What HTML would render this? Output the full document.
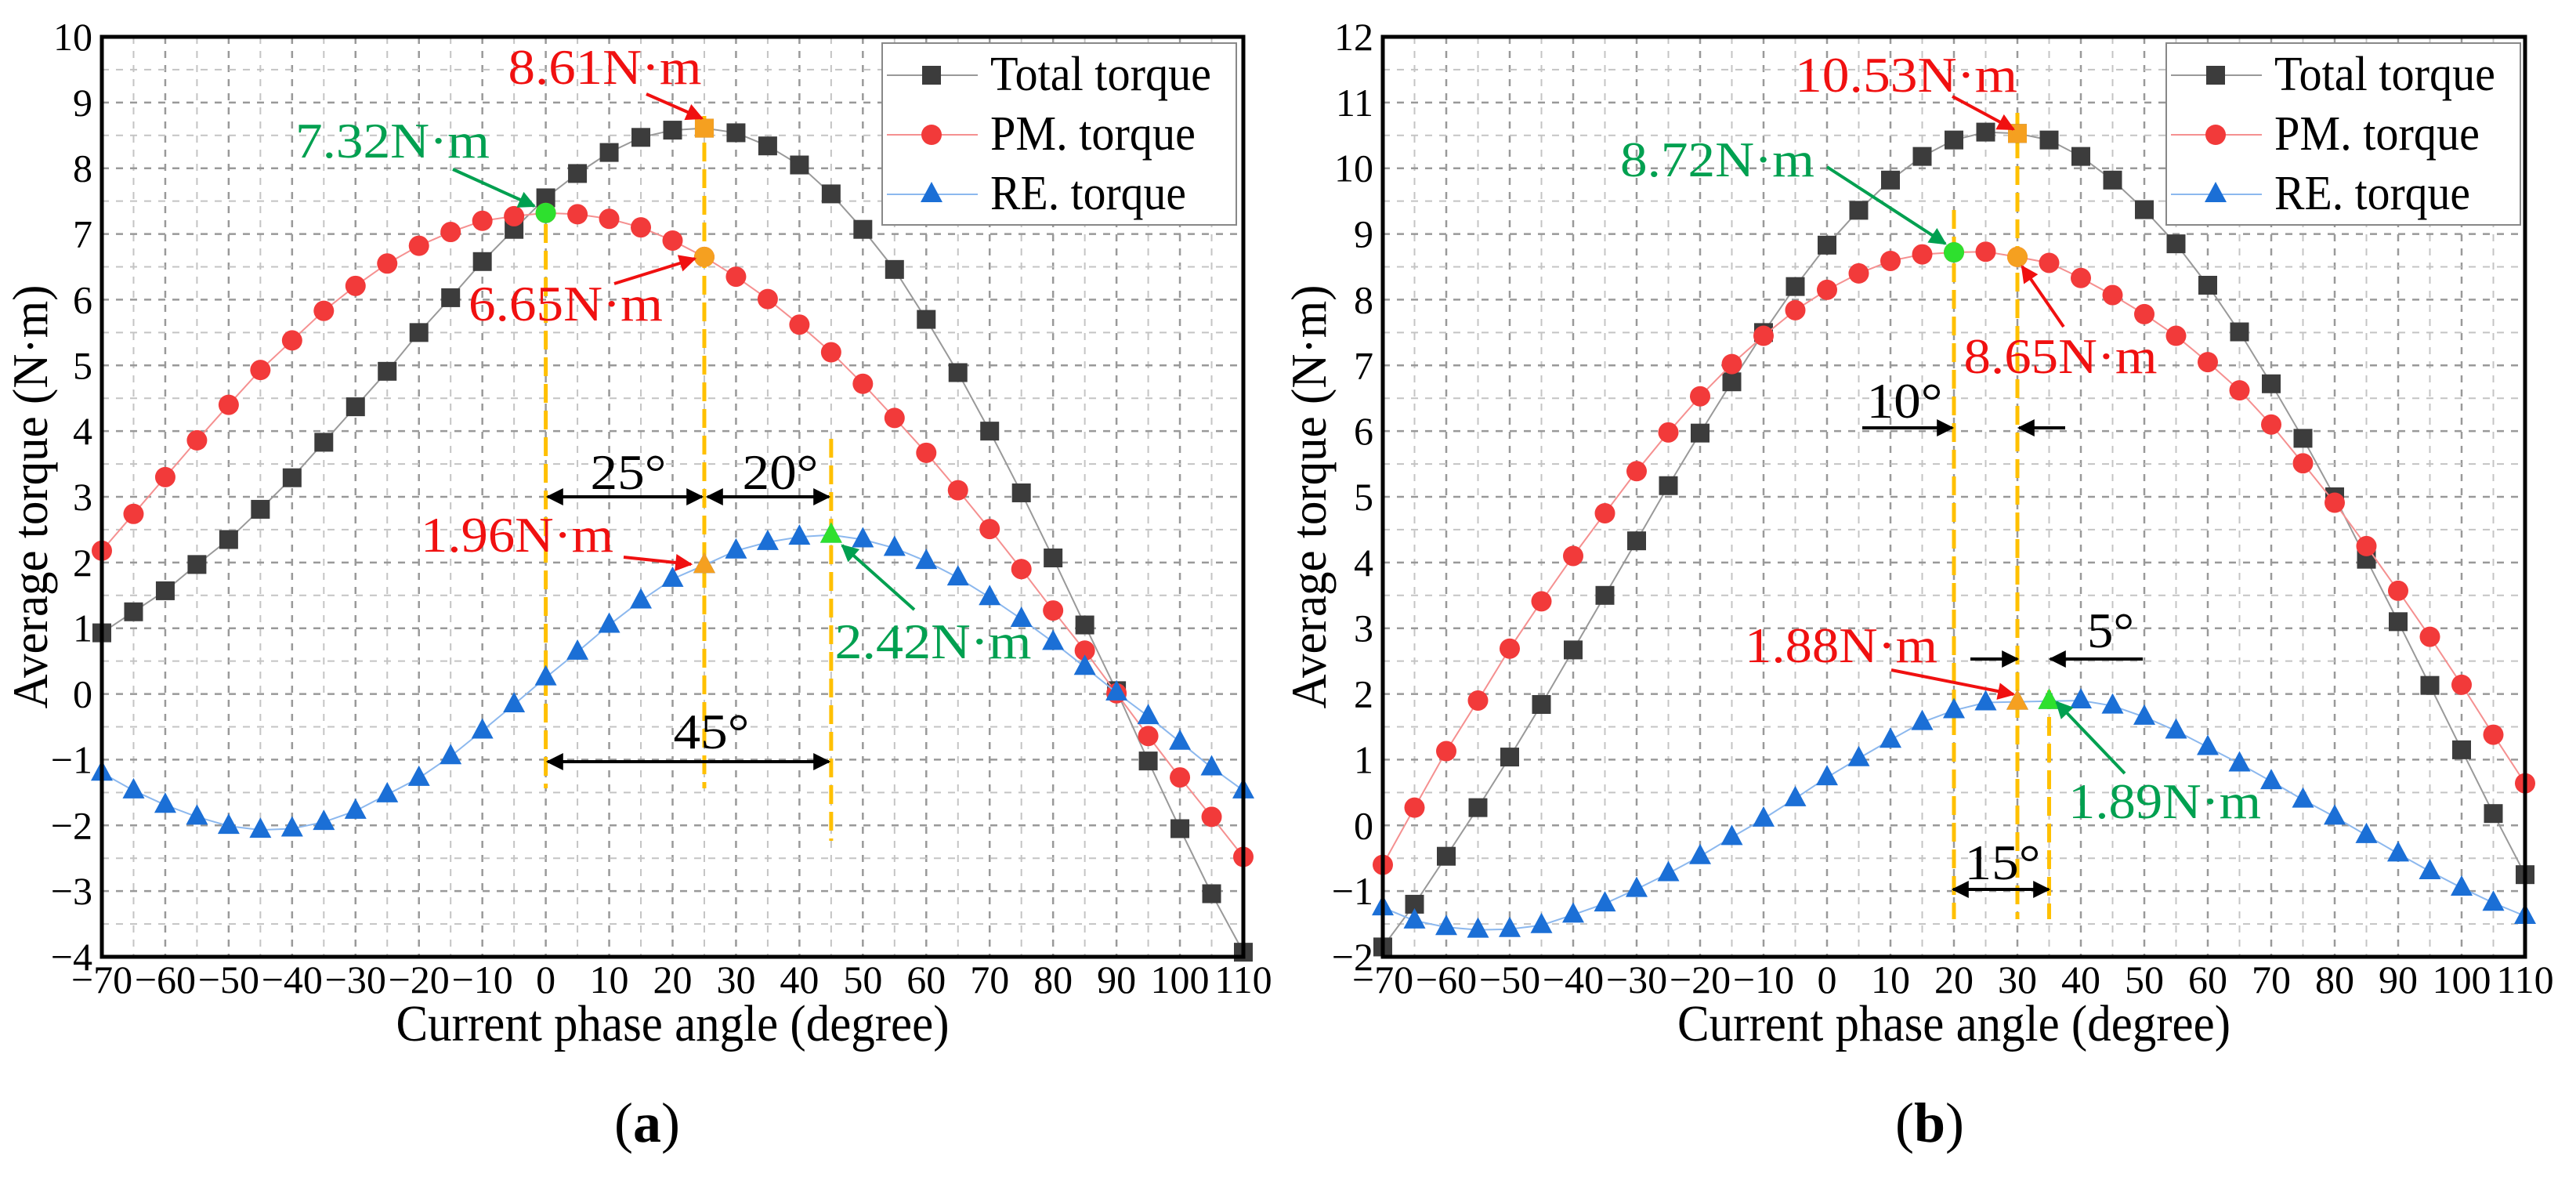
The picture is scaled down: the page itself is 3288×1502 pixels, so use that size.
<!DOCTYPE html>
<html><head><meta charset="utf-8"><style>
html,body{margin:0;padding:0;background:#fff}
svg{display:block;font-family:"Liberation Serif","Times New Roman",Times,"DejaVu Serif",serif}
text{font-family:"Liberation Serif","Times New Roman",Times,"DejaVu Serif",serif}
</style></head><body>
<svg id="svg" width="3288" height="1502" viewBox="0 0 3288 1502"></svg>
<script>
const angles = [-70,-65,-60,-55,-50,-45,-40,-35,-30,-25,-20,-15,-10,-5,0,5,10,15,20,25,30,35,40,45,50,55,60,65,70,75,80,85,90,95,100,105,110];
const totalA = [0.93,1.25,1.57,1.97,2.35,2.81,3.29,3.83,4.37,4.91,5.5,6.03,6.58,7.07,7.55,7.92,8.24,8.47,8.58,8.61,8.54,8.34,8.05,7.61,7.07,6.46,5.70,4.89,4.0,3.06,2.07,1.05,0.05,-1.02,-2.05,-3.04,-3.93];
const pmA = [2.18,2.74,3.30,3.86,4.4,4.93,5.38,5.83,6.21,6.55,6.82,7.03,7.2,7.27,7.32,7.3,7.23,7.1,6.9,6.65,6.35,6.01,5.62,5.2,4.72,4.2,3.67,3.1,2.51,1.9,1.27,0.66,0.01,-0.64,-1.27,-1.87,-2.48];
const reA = [-1.2,-1.47,-1.69,-1.87,-2.01,-2.07,-2.05,-1.95,-1.78,-1.53,-1.28,-0.95,-0.56,-0.16,0.25,0.64,1.05,1.42,1.75,1.96,2.18,2.31,2.39,2.42,2.35,2.22,2.02,1.77,1.47,1.14,0.79,0.41,0.02,-0.34,-0.73,-1.12,-1.47];
const totalB = [-1.85,-1.2,-0.47,0.27,1.04,1.84,2.67,3.5,4.33,5.17,5.97,6.75,7.5,8.2,8.83,9.36,9.82,10.18,10.43,10.55,10.53,10.43,10.18,9.82,9.37,8.85,8.22,7.51,6.72,5.89,5.0,4.05,3.1,2.13,1.15,0.18,-0.75];
const pmB = [-0.6,0.27,1.13,1.9,2.69,3.41,4.1,4.75,5.39,5.98,6.53,7.02,7.45,7.84,8.15,8.4,8.59,8.69,8.72,8.73,8.65,8.56,8.33,8.07,7.78,7.45,7.05,6.62,6.1,5.51,4.91,4.25,3.57,2.87,2.14,1.38,0.64];
const reB = [-1.25,-1.45,-1.55,-1.59,-1.58,-1.52,-1.36,-1.19,-0.97,-0.73,-0.47,-0.18,0.1,0.41,0.73,1.02,1.3,1.57,1.75,1.87,1.88,1.89,1.9,1.82,1.65,1.44,1.19,0.94,0.67,0.39,0.13,-0.15,-0.43,-0.7,-0.95,-1.18,-1.38];
const xTicks = [-70,-60,-50,-40,-30,-20,-10,0,10,20,30,40,50,60,70,80,90,100,110];
const yTicksA = [-4,-3,-2,-1,0,1,2,3,4,5,6,7,8,9,10];
const yTicksB = [-2,-1,0,1,2,3,4,5,6,7,8,9,10,11,12];

const NS="http://www.w3.org/2000/svg";
const FF="'Liberation Serif','Times New Roman',Times,'DejaVu Serif',serif";
const svg=document.getElementById('svg');
function el(tag,attrs,parent,text){const e=document.createElementNS(NS,tag);for(const k in attrs)e.setAttribute(k,attrs[k]);if(tag==='text')e.style.fontFamily=FF;if(text!==undefined)e.textContent=text;(parent||svg).appendChild(e);return e;}
const defs=el('defs',{});
function mk(id,color){const m=el('marker',{id:id,refX:9,refY:5,orient:'auto-start-reverse',markerUnits:'userSpaceOnUse',markerWidth:26,markerHeight:22,viewBox:'0 0 10 10'},defs);el('path',{d:'M0,0 L10,5 L0,10 z',fill:color},m);}
mk('ahK','#000');mk('ahR','#f01010');mk('ahG','#00a050');

function chart(cfg){
  const g=el('g',{});
  
  
  const L=cfg.L,R=cfg.R,T=47,B=1221;
  const xs=d=>L+(d+70)*(R-L)/180;
  const ys=v=>B-(v-cfg.ymin)*(B-T)/14;
  const grid=el('g',{},g);
  
  for(let d=-65;d<110;d+=5){const maj=d%10===0;el('line',{x1:xs(d),x2:xs(d),y1:T,y2:B,stroke:maj?'#999':'#c4c4c4','stroke-width':maj?2.5:2,'stroke-dasharray':'9,9'},grid);}
  for(let v=cfg.ymin+0.5;v<cfg.ymin+14;v+=0.5){const maj=Math.abs(v-Math.round(v))<0.01;el('line',{x1:L,x2:R,y1:ys(v),y2:ys(v),stroke:maj?'#999':'#c4c4c4','stroke-width':maj?2.5:2,'stroke-dasharray':'9,9'},grid);}
  xTicks.forEach(t=>{const tx=el('text',{x:xs(t),y:1267,'font-size':50,'text-anchor':'middle',fill:'#000'},g,(t<0?'\u2212':'')+Math.abs(t));});
  cfg.yTicks.forEach(t=>{const ty=el('text',{x:L-12,y:ys(t)+17,'font-size':50,'text-anchor':'end',fill:'#000'},g,(t<0?'\u2212':'')+Math.abs(t));});
  const xt=el('text',{x:(L+R)/2,y:1328,'font-size':66,'text-anchor':'middle',textLength:706,lengthAdjust:'spacingAndGlyphs'},g,'Current phase angle (degree)');
  
  const yt=el('text',{x:0,y:0,'font-size':64,'text-anchor':'middle',textLength:541,lengthAdjust:'spacingAndGlyphs',transform:`translate(${cfg.ytx},634) rotate(-90)`},g,'Average torque (N\u00b7m)');
  
  const cap=el('text',{x:cfg.capx,y:1457,'font-size':72,'text-anchor':'middle'},g);
  
  el('tspan',{},cap,'(');el('tspan',{'font-weight':'bold'},cap,cfg.cap);el('tspan',{},cap,')');
  cfg.guides.forEach(gd=>{const l=el('line',{x1:xs(gd[0]),x2:xs(gd[0]),y1:gd[1],y2:gd[2],stroke:'#ffc000','stroke-width':5,'stroke-dasharray':'24,10'},g);});
  const series=[[cfg.total,'#3c3c3c','#999','sq','total-torque-series'],[cfg.pm,'#f23a3a','#f59090','ci','pm-torque-series'],[cfg.re,'#1b6fd6','#8cb8ee','tr','re-torque-series']];
  series.forEach(s=>{
    const sg=el('g',{},g);
    
    el('polyline',{points:angles.map((a,i)=>xs(a)+','+ys(s[0][i])).join(' '),fill:'none',stroke:s[2],'stroke-width':2},sg);
    angles.forEach((a,i)=>drawMarker(sg,s[3],xs(a),ys(s[0][i]),s[1]));
  });
  cfg.hl.forEach(h=>{drawMarker(g,h[0],xs(h[1]),ys(h[2]),h[3]);});
  const lg=el('g',{},g);
  
  const lx=cfg.legX,lw=cfg.legW;
  el('rect',{x:lx,y:55,width:lw,height:232,fill:'#fff',stroke:'#888','stroke-width':2},lg);
  const names=['Total torque','PM. torque','RE. torque'];
  const lens=[282,262,250];
  series.forEach((s,i)=>{const yy=96+i*76;
    const e=el('g',{},lg);
    el('line',{x1:lx+6,x2:lx+122,y1:yy,y2:yy,stroke:s[2],'stroke-width':2},e);
    drawMarker(e,s[3],lx+63,yy,s[1]);
    el('text',{x:lx+138,y:yy+19,'font-size':62,textLength:lens[i],lengthAdjust:'spacingAndGlyphs'},e,names[i]);});
  const fr=el('rect',{x:L,y:T,width:R-L,height:B-T,fill:'none',stroke:'#000','stroke-width':5},g);
  
  cfg.notes.forEach(n=>{const t=el('text',{x:n[0],y:n[1]+21,'font-size':64,'text-anchor':'middle',fill:n[3],textLength:n[4],lengthAdjust:'spacingAndGlyphs'},g,n[2]);});
  cfg.arrows.forEach(a=>{const col=a[4];const id=col==='#000'?'ahK':(col==='#f01010'?'ahR':'ahG');
    const l=el('line',{x1:a[0],y1:a[1],x2:a[2],y2:a[3],stroke:col,'stroke-width':4,'marker-end':`url(#${id})`},g);
    if(a[5])l.setAttribute('marker-start',`url(#${id})`);
    });
}
function drawMarker(p,type,x,y,c){
  if(type==='sq')el('rect',{x:x-12,y:y-12,width:24,height:24,fill:c},p);
  else if(type==='ci')el('circle',{cx:x,cy:y,r:13,fill:c},p);
  else el('polygon',{points:`${x},${y-16} ${x+14},${y+10} ${x-14},${y+10}`,fill:c},p);
}
const R='#f01010',G='#00a050',Gm='#2ee02e',O='#f5a020';
chart({name:'chart-a',L:130,R:1587,ymin:-4,yTicks:yTicksA,total:totalA,pm:pmA,re:reA,ytx:60,capx:826,cap:'a',
  legX:1126,legW:452,
  guides:[[0,252,1006],[25,148,1006],[45,560,1073]],
  hl:[['ci',0,7.32,Gm],['sq',25,8.61,O],['ci',25,6.65,O],['tr',25,1.96,O],['tr',45,2.42,Gm]],
  notes:[[772,86,'8.61N\u00b7m',R,247],[501,180,'7.32N\u00b7m',G,248],[722,388,'6.65N\u00b7m',R,248],[660,683,'1.96N\u00b7m',R,246],[1191,819,'2.42N\u00b7m',G,251],[802,603,'25\u00b0','#000',97],[996,603,'20\u00b0','#000',97],[908,934,'45\u00b0','#000',97]],
  arrows:[[825,120,896,151,R],[578,216,682,263,G],[784,362,887,330,R],[796,711,882,720,R],[1167,778,1075,696,G],[699,634,896,634,'#000',1],[903,634,1058,634,'#000',1],[699,972,1058,972,'#000',1]]});
chart({name:'chart-b',L:1765,R:3223,ymin:-2,yTicks:yTicksB,total:totalB,pm:pmB,re:reB,ytx:1692,capx:2463,cap:'b',
  legX:2765,legW:452,
  guides:[[20,268,1173],[30,144,1173],[35,881,1173]],
  hl:[['ci',20,8.72,Gm],['sq',30,10.53,O],['ci',30,8.65,O],['tr',30,1.88,O],['tr',35,1.89,Gm]],
  notes:[[2433,96,'10.53N\u00b7m',R,284],[2192,204,'8.72N\u00b7m',G,248],[2630,455,'8.65N\u00b7m',R,247],[2431,512,'10\u00b0','#000',97],[2350,824,'1.88N\u00b7m',R,246],[2694,805,'5\u00b0','#000',60],[2763,1023,'1.89N\u00b7m',G,246],[2556,1101,'15\u00b0','#000',97]],
  arrows:[[2492,123,2570,165,R],[2332,213,2483,311,G],[2634,417,2581,340,R],[2377,546,2492,546,'#000'],[2636,546,2577,546,'#000'],[2414,855,2570,886,R],[2515,841,2575,841,'#000'],[2735,841,2617,841,'#000'],[2712,987,2625,896,G],[2493,1135,2615,1135,'#000',1]]});
</script>
</body></html>
